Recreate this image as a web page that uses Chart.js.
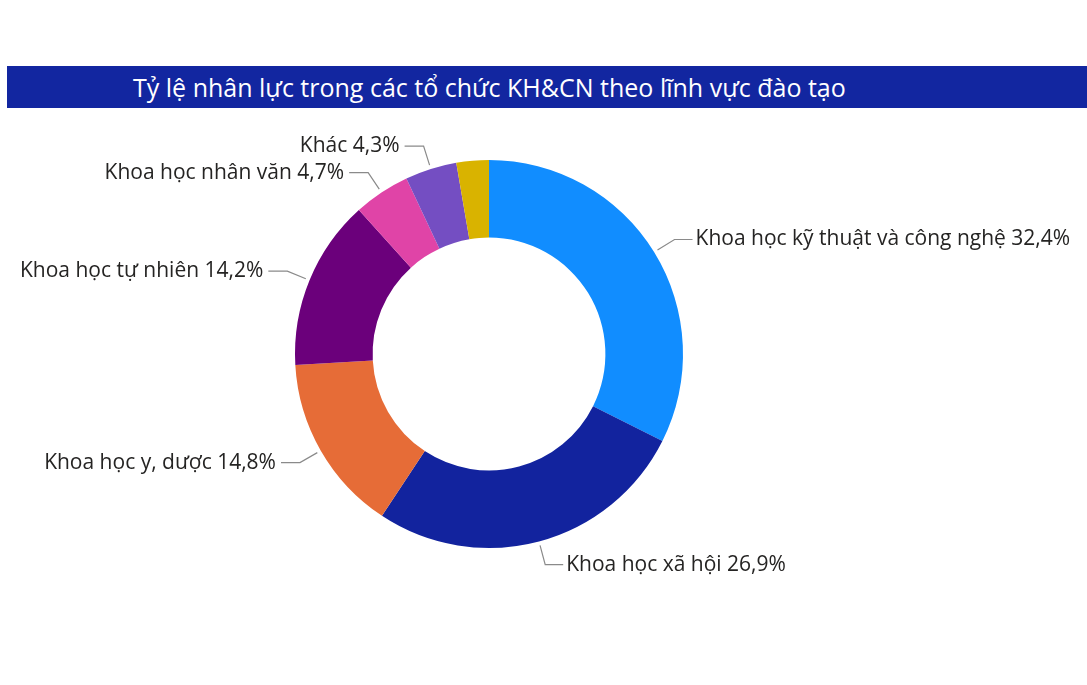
<!DOCTYPE html>
<html lang="vi">
<head>
    <meta charset="UTF-8">
    <title>Tỷ lệ nhân lực</title>
    <script src="https://cdn.jsdelivr.net/npm/chart.js"></script>
    <style>
        html, body { margin: 0; padding: 0; background: #fff; }
        #wrap { position: relative; width: 1087px; height: 685px; }
        #title {
            position: absolute; left: 7px; top: 66px; width: 1080px; height: 42px;
            background: #1226A0; color: #fff;
            font-family: "Open Sans", sans-serif; font-size: 25px;
            line-height: 42px; padding-left: 126px; box-sizing: border-box;
        }
        canvas { position: absolute; left: 0; top: 0; }
    </style>
</head>
<body>
<div id="wrap">
    <canvas id="graph" width="1087" height="685"></canvas>
    <div id="title">Tỷ lệ nhân lực trong các tổ chức KH&amp;CN theo lĩnh vực đào tạo</div>
</div>
<script>
    // données (%)
    const labels = ['Khoa học kỹ thuật và công nghệ', 'Khoa học xã hội', 'Khoa học y, dược',
        'Khoa học tự nhiên', 'Khoa học nhân văn', 'Khác', ''];
    const values = [32.4, 26.9, 14.8, 14.2, 4.7, 4.3, 2.7];
    const valueText = ['32,4%', '26,9%', '14,8%', '14,2%', '4,7%', '4,3%', ''];
    const colors = ['#118DFF', '#12239E', '#E66C37', '#6B007B', '#E044A7', '#744EC2', '#D9B300'];

    // étiquettes avec lignes de rappel
    const leaderLabels = {
        id: 'leaderLabels',
        afterDatasetsDraw(chart) {
            const ctx = chart.ctx;
            const arcs = chart.getDatasetMeta(0).data;
            ctx.save();
            ctx.font = '21px "Open Sans", sans-serif';
            ctx.textBaseline = 'middle';
            arcs.forEach((arc, i) => {
                if (!labels[i]) return;
                const mid = (arc.startAngle + arc.endAngle) / 2;
                const r = arc.outerRadius;
                const cos = Math.cos(mid), sin = Math.sin(mid);
                const x0 = arc.x + cos * (r + 4), y0 = arc.y + sin * (r + 4);
                const x1 = arc.x + cos * (r + 24), y1 = arc.y + sin * (r + 24);
                const right = cos >= 0;
                const x2 = x1 + (right ? 18 : -19);
                ctx.strokeStyle = '#8a8a8a';
                ctx.lineWidth = 1.2;
                ctx.beginPath();
                ctx.moveTo(x0, y0);
                ctx.lineTo(x1, y1);
                ctx.lineTo(x2, y1);
                ctx.stroke();
                ctx.fillStyle = '#252423';
                ctx.textAlign = right ? 'left' : 'right';
                ctx.fillText(labels[i] + ' ' + valueText[i], x2 + (right ? 3 : -5), y1);
            });
            ctx.restore();
        }
    };

    new Chart(document.getElementById('graph'), {
        type: 'doughnut',
        data: {
            labels: labels,
            datasets: [{
                data: values,
                backgroundColor: colors,
                borderWidth: 0
            }]
        },
        options: {
            responsive: false,
            animation: false,
            cutout: '60%',
            layout: { padding: { left: 295, right: 404, top: 160, bottom: 137 } },
            plugins: {
                legend: { display: false },
                tooltip: { enabled: false }
            }
        },
        plugins: [leaderLabels]
    });
</script>
</body>
</html>
